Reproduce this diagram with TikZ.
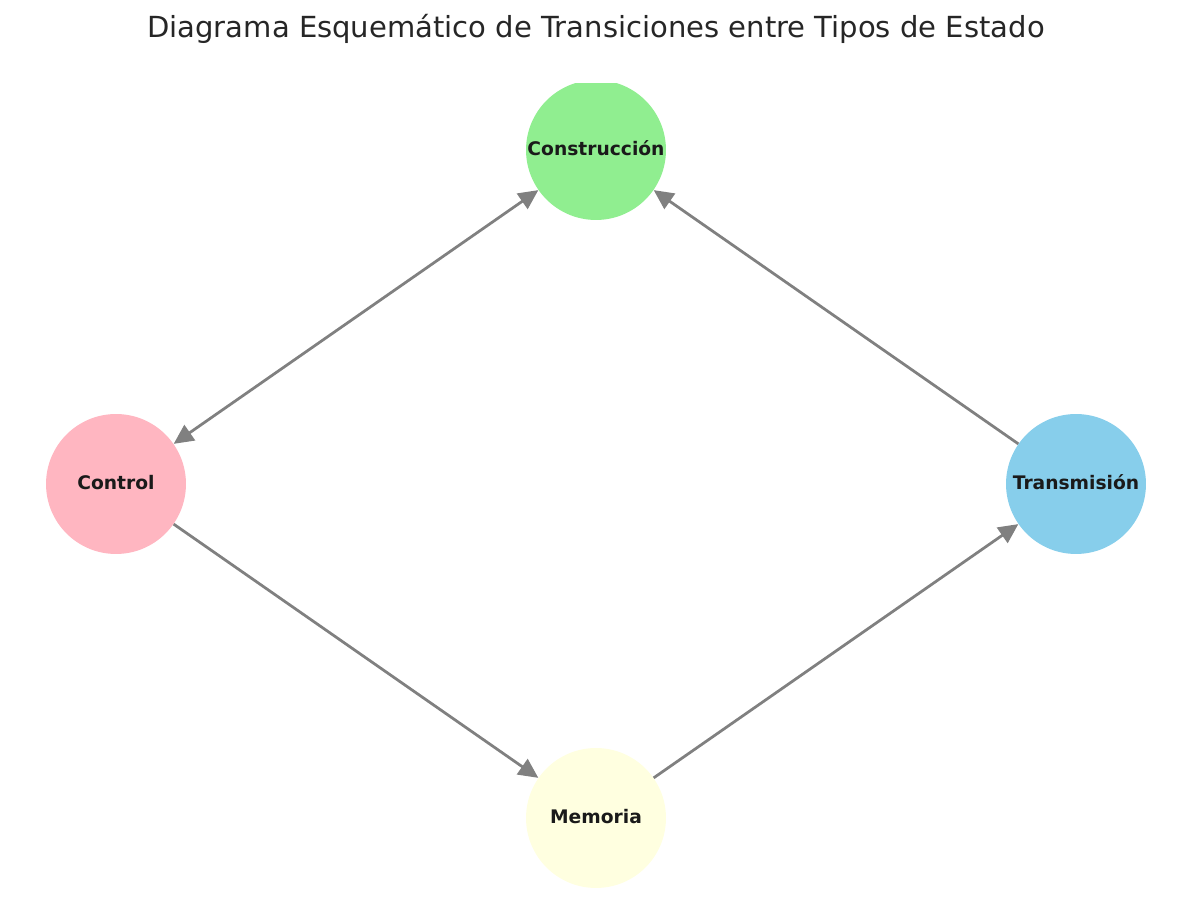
\documentclass[tikz,border=0pt]{standalone}
\usepackage{fontspec}
\setmainfont{DejaVu Sans}
\usetikzlibrary{arrows.meta}
\definecolor{lgreen}{HTML}{90EE90}
\definecolor{lpink}{HTML}{FFB6C1}
\definecolor{skyb}{HTML}{87CEEB}
\definecolor{lyellow}{HTML}{FFFFE0}
\definecolor{edgegray}{HTML}{808080}
\definecolor{textdark}{HTML}{1A1A1A}
\definecolor{titlegray}{HTML}{262626}

\begin{document}
\begin{tikzpicture}[>={Triangle[length=5mm,width=4.7mm]},
  state/.style={circle,minimum size=3.556cm,inner sep=0pt,text height=0.73em,text depth=0pt,font=\fontsize{13.5}{16}\selectfont\bfseries,text=textdark},
  edge/.style={->,line width=2pt,draw=edgegray}]
\def\s{0.0254}
\useasboundingbox (0,0) rectangle (1192*\s,903*\s);
\node[anchor=base,font=\fontsize{21}{25}\selectfont,text=titlegray] (titulo) at (596*\s,865*\s) {Diagrama Esquemático de Transiciones entre Tipos de Estado};
% the axes cut the top of the upper circle
\begin{scope}
\clip (0,0) rectangle (1192*\s,819*\s);
\node[state,fill=lgreen] (construccion) at (596*\s,753*\s) {Construcción};
\node[state,fill=lpink] (control) at (116*\s,419*\s) {Control};
\node[state,fill=skyb] (transmision) at (1076*\s,419*\s) {Transmisión};
\node[state,fill=lyellow] (memoria) at (596*\s,85*\s) {Memoria};
\end{scope}
\draw[edge,<->] (control) -- (construccion);
\draw[edge] (control) -- (memoria);
\draw[edge] (memoria) -- (transmision);
\draw[edge] (transmision) -- (construccion);
\end{tikzpicture}
\end{document}
